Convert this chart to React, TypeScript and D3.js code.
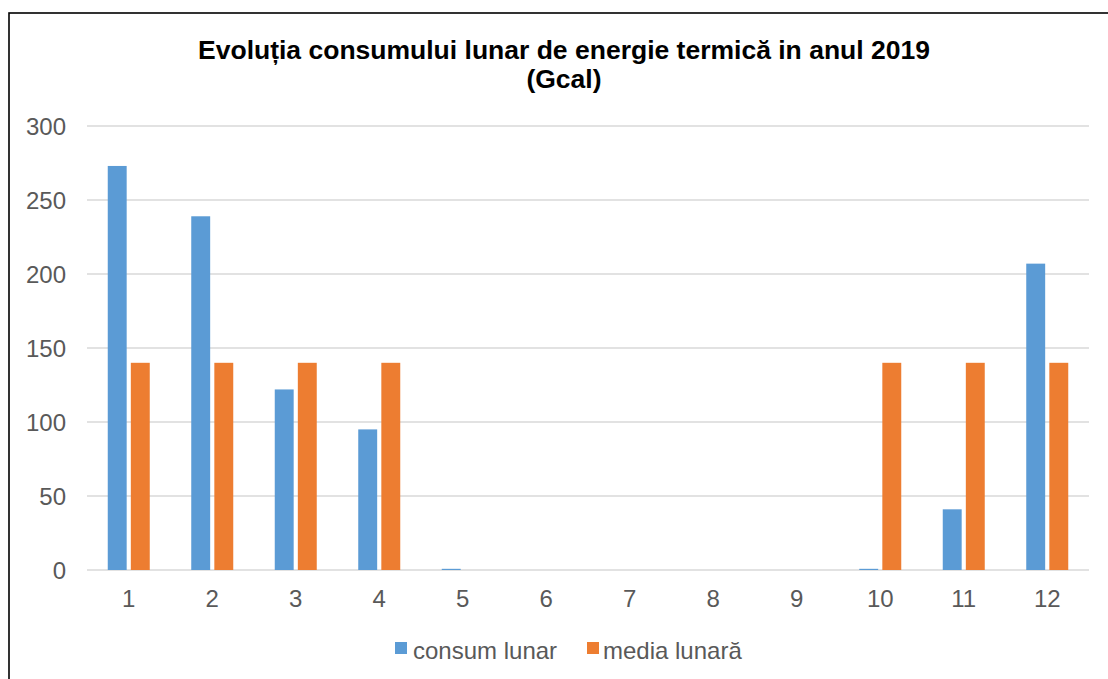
import React from 'react'
import * as d3 from 'd3'

const months = ['1', '2', '3', '4', '5', '6', '7', '8', '9', '10', '11', '12']
const consumLunar = [273, 239, 122, 95, 0.8, 0, 0, 0, 0, 0.8, 41, 207]
const mediaLunara = [140, 140, 140, 140, 0, 0, 0, 0, 0, 140, 140, 140]
const yTicks = [0, 50, 100, 150, 200, 250, 300]
const seriesNames = ['consum lunar', 'media lunară']
const colors = ['#5b9bd5', '#ed7d31']

const W = 1108
const H = 679
const font = '"Liberation Sans", Arial, sans-serif'

export default function App() {
  const x = d3.scaleBand().domain(months).range([87, 1089]).padding(0)
  const y = d3.scaleLinear().domain([0, 300]).range([570, 126])
  const series = [consumLunar, mediaLunara]

  return (
    <svg width={W} height={H} style={{ position: 'absolute', left: 0, top: 0, background: '#fff' }}>
      <rect x={9} y={13} width={1200} height={800} fill="#fff" stroke="#000" strokeWidth={1.6} />

      <text x={564} y={59} textAnchor="middle" fontFamily={font} fontWeight="bold" fontSize={26.5} fill="#000">
        Evoluția consumului lunar de energie termică in anul 2019
      </text>
      <text x={564} y={88} textAnchor="middle" fontFamily={font} fontWeight="bold" fontSize={26.5} fill="#000">
        (Gcal)
      </text>

      {/* grid + y labels */}
      {yTicks.map(t => (
        <g key={t}>
          <line x1={87} x2={1089} y1={y(t)} y2={y(t)} stroke="#d9d9d9" strokeWidth={1.6} />
          <text x={66} y={y(t) + 8.5} textAnchor="end" fontFamily={font} fontSize={24} fill="#595959">{t}</text>
        </g>
      ))}

      {/* bars */}
      {months.map((m, i) => {
        const c = x(m)! + x.bandwidth() / 2
        const x1 = d3.scaleBand().domain(seriesNames).range([c - 21, c + 21]).paddingInner(0.18)
        return (
          <g key={m}>
            {series.map((s, k) => s[i] > 0 ? (
              <rect key={k} x={x1(seriesNames[k])} y={y(s[i])} width={x1.bandwidth()}
                height={y(0) - y(s[i])} fill={colors[k]} />
            ) : null)}
            <text x={c} y={607} textAnchor="middle" fontFamily={font} fontSize={24} fill="#595959">{m}</text>
          </g>
        )
      })}

      {/* legend */}
      <rect x={395} y={642} width={12} height={12} fill={colors[0]} />
      <text x={413} y={659} fontFamily={font} fontSize={24} fill="#595959">{seriesNames[0]}</text>
      <rect x={587} y={642} width={12} height={12} fill={colors[1]} />
      <text x={603} y={659} fontFamily={font} fontSize={24} fill="#595959">{seriesNames[1]}</text>
    </svg>
  )
}
